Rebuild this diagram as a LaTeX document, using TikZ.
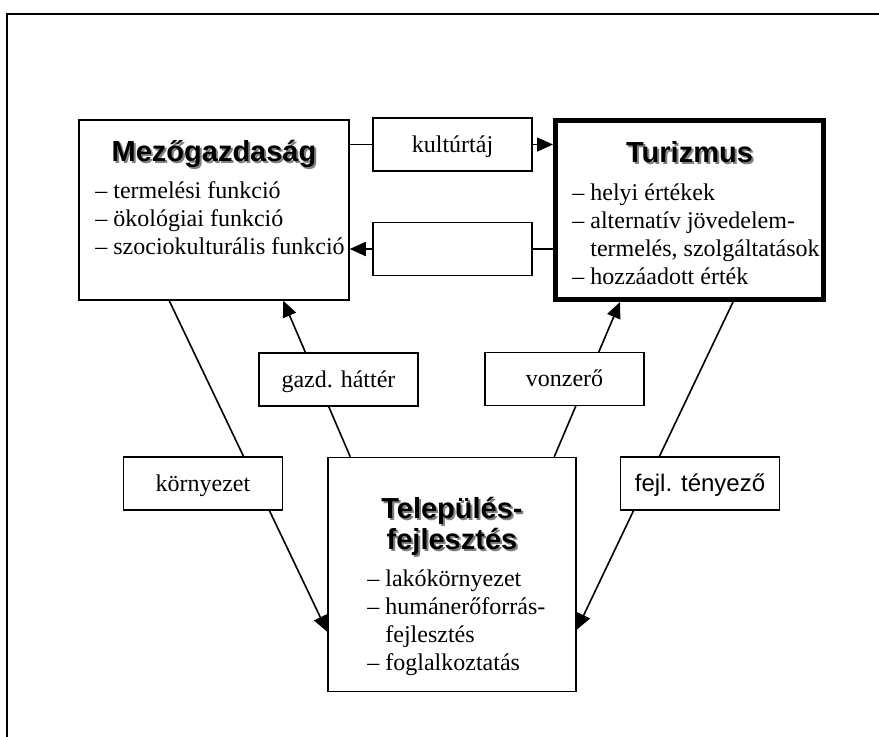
\documentclass[tikz,border=0pt]{standalone}
\usepackage{fontspec}
\setmainfont{Liberation Serif}
\newfontfamily\arialfont{Liberation Sans}
\usetikzlibrary{arrows.meta,calc,backgrounds}

\newcommand{\bodyfont}{\fontsize{12}{14}\selectfont}
\newcommand{\headfont}{\arialfont\bfseries\fontsize{14.5}{15.5}\selectfont}
\newcommand{\shadowed}[1]{\leavevmode\rlap{\kern1pt\raisebox{-1pt}{\color{black!50}#1}}#1}
\newcommand{\textlines}[2]{\parbox[t]{#1}{\bodyfont\raggedright #2}}

\tikzset{
  box/.style={draw, line width=0.75pt, fill=white, inner sep=0pt},
  thickbox/.style={box, line width=2.5pt},
  lbl/.style={box, minimum width=79.5pt, minimum height=26.5pt,
    text height=9.5pt, text depth=2pt, font=\bodyfont},
  conn/.style={line width=0.8pt},
  arr/.style={conn, -{Triangle[length=8pt,width=7pt]}},
  headtext/.style={inner sep=0pt, font=\headfont},
  bodytext/.style={inner sep=0pt}
}

\begin{document}
\begin{tikzpicture}[x=0.5pt,y=-0.5pt]
\clip (0,0) rectangle (879,736);
% keret
\draw[line width=0.75pt] (7,740) -- (7,14) -- (885,14);

% fo dobozok
\node[box, minimum width=135pt, minimum height=90pt] (mezo) at (214,210) {};
\node[thickbox, minimum width=134pt, minimum height=89.5pt] (turi) at (689.5,210) {};
\node[box, minimum width=124pt, minimum height=117pt] (telep) at (452,574.5) {};

\node[headtext, anchor=base] (mezocim) at (214,161) {\shadowed{Mezőgazdaság}};
\node[bodytext, anchor=base west] (mezotxt) at (95,198) {\textlines{130pt}{%
  – termelési funkció\\
  – ökológiai funkció\\
  – szociokulturális funkció}};

\node[headtext, anchor=base] (turicim) at (689.5,162) {\shadowed{Turizmus}};
\node[bodytext, anchor=base west] (turitxt) at (572,200) {\textlines{130pt}{%
  – helyi értékek\\
  – alternatív jövedelem-\\
  \phantom{– }termelés, szolgáltatások\\
  – hozzáadott érték}};

\node[headtext, anchor=base] (telepcim) at (452,518) {%
  \parbox[t]{120pt}{\centering\headfont\shadowed{Település-}\\\shadowed{fejlesztés}}};
\node[bodytext, anchor=base west] (teleptxt) at (367,586) {\textlines{100pt}{%
  – lakókörnyezet\\
  – humánerőforrás-\\
  \phantom{– }fejlesztés\\
  – foglalkoztatás}};

% kapcsolo dobozok
\node[lbl] (kult) at (452.5,144.5) {kultúrtáj};
\node[lbl] (ures) at (452.5,249) {};
\node[lbl] (gazd) at (338.5,379.5) {gazd. háttér};
\node[lbl] (vonz) at (564.5,379) {vonzerő};
\node[lbl] (korny) at (203,483.5) {környezet};
\node[lbl, font=\arialfont\fontsize{12}{14}\selectfont] (fejl) at (700,483.5) {fejl. tényező};

% nyilak
\begin{scope}[on background layer]
\draw[conn] (kult.west -| mezo.east) -- (kult.west);
\draw[arr] (kult.east) -- (kult.east -| turi.west);
\draw[conn] (ures.east -| turi.west) -- (ures.east);
\draw[arr] (ures.west) -- (ures.west -| mezo.east);
\draw[arr] ($(mezo.south west)+(91,0)$) -- ($(telep.north west)+(0,175)$);
\draw[arr] ($(telep.north west)+(23,0)$) -- ($(mezo.south west)+(205,0)$);
\draw[arr] ($(telep.north west)+(227,0)$) -- ($(turi.south west)+(67,0)$);
\draw[arr] ($(turi.south west)+(180,0)$) -- ($(telep.north east)+(0,173)$);
\end{scope}
\end{tikzpicture}
\end{document}
